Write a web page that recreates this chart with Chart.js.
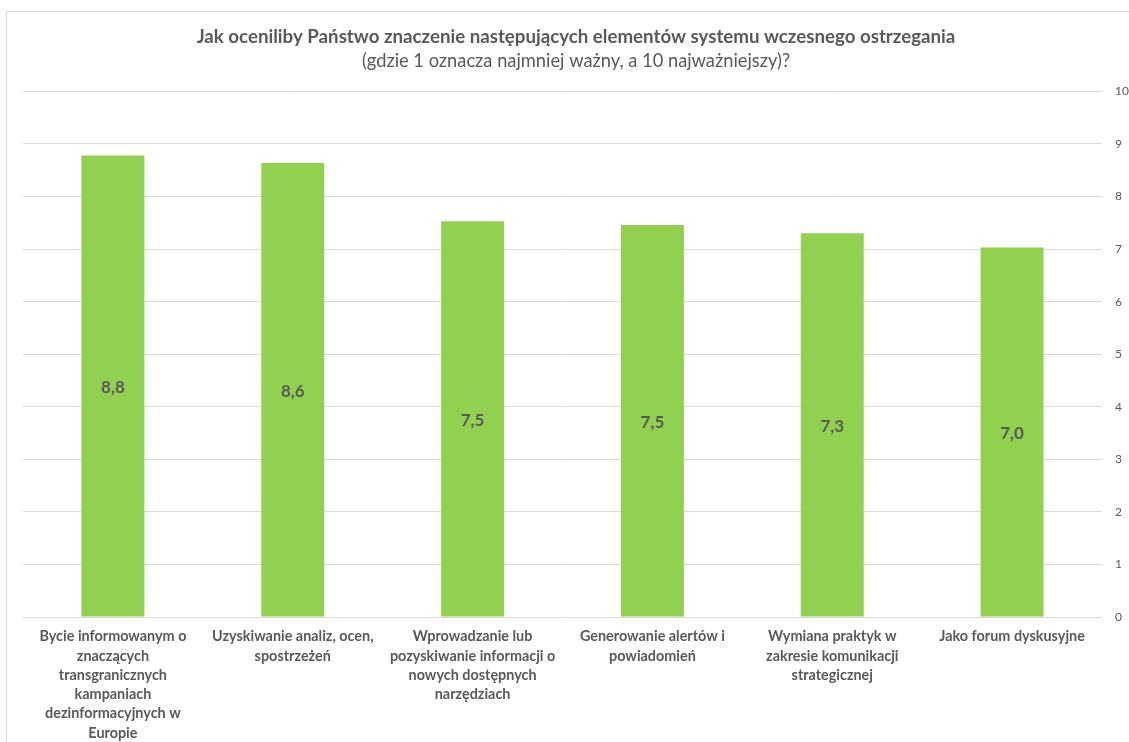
<!DOCTYPE html>
<html>
<head>
<meta charset="utf-8">
<script src="https://cdn.jsdelivr.net/npm/chart.js@4.4.1/dist/chart.umd.min.js"></script>
<style>
  html, body { margin: 0; padding: 0; background: #fff; }
  #wrap { position: absolute; left: 6px; top: 11px; width: 1140px; height: 760px; border: 1px solid #d9d9d9; box-sizing: border-box; }
  #box { position: absolute; left: 0; top: 0; width: 1129px; height: 742px; }
</style>
</head>
<body>
<div id="wrap"></div>
<div id="box"><canvas id="barChart"></canvas></div>
<script>
// categories (pre-wrapped like in the original)
const categories = [
    ['Bycie informowanym o', 'znaczących', 'transgranicznych', 'kampaniach', 'dezinformacyjnych w', 'Europie'],
    ['Uzyskiwanie analiz, ocen,', 'spostrzeżeń'],
    ['Wprowadzanie lub', 'pozyskiwanie informacji o', 'nowych dostępnych', 'narzędziach'],
    ['Generowanie alertów i', 'powiadomień'],
    ['Wymiana praktyk w', 'zakresie komunikacji', 'strategicznej'],
    ['Jako forum dyskusyjne']
];
const scores = [8.78, 8.64, 7.53, 7.46, 7.30, 7.03];
const yTicks = [0, 1, 2, 3, 4, 5, 6, 7, 8, 9, 10];

const titleText = 'Jak oceniliby Państwo znaczenie następujących elementów systemu wczesnego ostrzegania';
const subtitleText = '(gdzie 1 oznacza najmniej ważny, a 10 najważniejszy)?';

const textColor = '#595959';
const fontName = 'Lato, "Open Sans", sans-serif';

//Write value in the middle of every bar
const valueLabels = {
    id: 'valueLabels',
    afterDatasetsDraw(chart) {
        const ctx = chart.ctx;
        const meta = chart.getDatasetMeta(0);
        ctx.save();
        ctx.font = 'bold 17px ' + fontName;
        ctx.fillStyle = textColor;
        ctx.textAlign = 'center';
        ctx.textBaseline = 'middle';
        meta.data.forEach(function (bar, i) {
            let mid = (bar.y + bar.base) / 2;
            ctx.fillText(scores[i].toFixed(1).replace('.', ','), bar.x, mid + 2);
        });
        ctx.restore();
    }
};

let ctx = document.getElementById('barChart').getContext('2d');
let chart = new Chart(ctx, {
    type: 'bar',
    data: {
        labels: categories,
        datasets: [{
            label: 'Ocena',
            data: scores,
            backgroundColor: '#92d050',
            categoryPercentage: 1,
            barPercentage: 0.35
        }]
    },
    options: {
        responsive: true,
        maintainAspectRatio: false,
        animation: false,
        layout: { padding: { left: 23, right: 0, top: 12, bottom: 0 } },
        plugins: {
            legend: { display: false },
            tooltip: { enabled: false },
            title: {
                display: true,
                text: titleText,
                color: textColor,
                font: { family: fontName, size: 18.7, weight: 'bold' },
                padding: { top: 14, bottom: 2 }
            },
            subtitle: {
                display: true,
                text: subtitleText,
                color: textColor,
                font: { family: fontName, size: 18.3, weight: 'normal' },
                padding: { top: 0, bottom: 19 }
            }
        },
        scales: {
            x: {
                afterFit: function (axis) { axis.height = 125; },
                grid: { display: false },
                border: { display: false },
                ticks: {
                    color: textColor,
                    font: { family: fontName, size: 14.4, weight: 'bold', lineHeight: 1.34 },
                    maxRotation: 0,
                    autoSkip: false,
                    padding: 2
                }
            },
            y: {
                position: 'right',
                min: 0,
                max: 10,
                afterFit: function (axis) { axis.width = 27; },
                afterBuildTicks: function (axis) {
                    axis.ticks = yTicks.map(function (v) { return { value: v }; });
                },
                grid: { color: '#d9d9d9', drawTicks: false },
                border: { display: false },
                ticks: {
                    color: textColor,
                    font: { family: fontName, size: 12 },
                    padding: 13
                }
            }
        }
    },
    plugins: [valueLabels]
});
</script>
</body>
</html>
